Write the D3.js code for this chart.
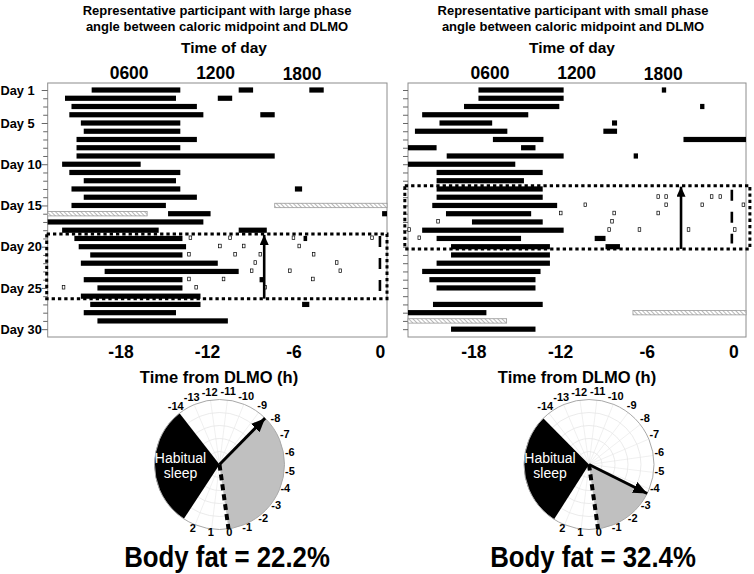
<!DOCTYPE html>
<html><head><meta charset="utf-8">
<script src="https://cdnjs.cloudflare.com/ajax/libs/d3/7.8.5/d3.min.js"></script>
<style>
body{margin:0;background:#fff}
svg{display:block}
text{font-family:"Liberation Sans",Arial,Helvetica,sans-serif}
</style>
</head><body>
<svg id="c" width="754" height="574"></svg>
<script>
// ---------------- data ----------------
const dayTicks = d3.range(1, 31);
const dayLabels = [1, 5, 10, 15, 20, 25, 30];
const bottomTicks = [-18, -12, -6, 0];
const clockTicks = [6, 12, 18];
const clockLabels = ["0600", "1200", "1800"];
const polarHours = d3.range(-14, 3);

const titlesLeft = ["Representative participant with large phase", "angle between caloric midpoint and DLMO"];
const titlesRight = ["Representative participant with small phase", "angle between caloric midpoint and DLMO"];
const bodyFat = ["Body fat = 22.2%", "Body fat = 32.4%"];

// DLMO in clock hours
const dlmoClock = [23.4, 22.85];

// [day, start h, end h] relative to DLMO — black bars
const leftEpisodes = [
  [1,-20.0,-13.85],[1,-9.8,-8.8],[1,-4.9,-3.9],
  [2,-21.85,-14.15],[2,-11.25,-10.25],
  [3,-21.4,-12.7],
  [4,-21.55,-12.25],[4,-8.3,-7.3],
  [5,-20.75,-13.85],
  [6,-20.55,-13.85],
  [7,-21.05,-12.7],
  [8,-21.05,-13.85],
  [9,-21.05,-7.3],
  [10,-22.05,-16.6],
  [11,-21.55,-13.85],
  [12,-20.55,-14.15],
  [13,-21.4,-13.85],[13,-5.9,-5.4],
  [14,-20.55,-12.7],
  [15,-21.4,-14.85],
  [16,-14.7,-11.75],[16,0.15,0.49],
  [17,-23.05,-12.25],
  [18,-22.05,-15.35],[18,-9.8,-7.85],
  [19,-21.2,-13.7],[19,-5.3,-5.05],
  [20,-20.9,-13.45],
  [21,-20.1,-13.7],
  [22,-20.75,-11.25],
  [23,-19.1,-9.8],
  [24,-20.55,-13.7],[24,-8.35,-8.0],
  [25,-19.6,-13.7],
  [26,-20.75,-12.45],
  [27,-20.1,-12.45],[27,-5.4,-4.9],
  [28,-20.55,-14.15],
  [29,-19.6,-10.55]
];
const leftHatched = [[15,-7.3,0.49],[16,-23.05,-16.15]];
// [day, h] — small hollow markers
const leftSnacks = [
  [19,-13.15],[19,-10.4],[19,-6.0],[19,-0.55],
  [20,-11.1],[20,-9.45],[20,-5.6],
  [21,-13.25],[21,-10.05],[21,-8.3],[21,-4.6],
  [22,-8.65],[22,-3.0],
  [23,-8.9],[23,-6.25],[23,-2.75],
  [24,-13.25],[24,-10.85],[24,-4.65],
  [25,-21.95],[25,-12.75],[25,-7.95]
];

const rightEpisodes = [
  [1,-17.65,-11.75],[1,-4.95,-4.65],
  [2,-17.65,-11.75],
  [3,-18.65,-12.05],[3,-2.3,-2.0],
  [4,-21.55,-14.2],
  [5,-20.35,-16.7],[5,-8.4,-8.05],
  [6,-22.05,-15.65],[6,-9.0,-8.05],
  [7,-16.65,-13.15],[7,-3.45,0.88],
  [8,-22.53,-20.55],[8,-14.7,-13.7],
  [9,-19.85,-11.75],[9,-6.9,-6.6],
  [10,-22.53,-15.1],
  [11,-20.55,-13.2],
  [12,-20.55,-14.5],
  [13,-20.55,-13.2],
  [14,-20.55,-13.2],
  [15,-20.85,-12.2],
  [16,-19.9,-14.0],
  [17,-18.1,-13.2],
  [18,-21.55,-11.75],
  [19,-20.55,-14.7],[19,-9.6,-8.85],
  [20,-19.55,-12.7],[20,-8.85,-7.85],
  [21,-19.55,-12.7],
  [22,-20.55,-12.7],
  [23,-21.55,-13.35],
  [24,-21.05,-13.7],
  [25,-20.55,-13.7],
  [27,-20.8,-13.2],
  [28,-22.53,-17.1],
  [30,-19.55,-13.7]
];
const rightHatched = [[28,-6.95,0.88],[29,-22.53,-15.7]];
const rightSnacks = [
  [14,-5.2],[14,-4.65],[14,-1.5],[14,-0.9],
  [15,-10.25],[15,-4.65],[15,-2.15],[15,0.7],
  [16,-11.95],[16,-8.25],[16,-5.2],
  [17,-20.45],[17,-8.4],
  [18,-22.45],[18,-8.6],[18,-6.5],[18,-3.1],[18,0.1],
  [19,-21.75]
];

// analysis window [first day, last day], caloric midpoint (h), DLMO marker (h)
const leftWindow = [18.45, 26.3];
const rightWindow = [12.6, 20.27];
const caloricMidpoint = [-8.03, -3.62];
const dlmoMark = [0, -0.1];
const dlmoMarkDays = [[18.7, 25.6], [13.1, 19.6]];

// polar: habitual sleep [start, end] h, caloric midpoint shown on clock (h)
const polarSleep = [[-21.25, -14.0], [-21.3, -14.45]];
const polarMid = [-8.5, -3.7];

// ---------------- drawing ----------------
const svg = d3.select("#c");
const defs = svg.append("defs");
const hatch = defs.append("pattern").attr("id", "hatch").attr("patternUnits", "userSpaceOnUse")
  .attr("width", 3).attr("height", 3).attr("patternTransform", "rotate(-45)");
hatch.append("rect").attr("width", 3).attr("height", 3).attr("fill", "#fff");
hatch.append("line").attr("x1", 0).attr("y1", 0).attr("x2", 0).attr("y2", 3)
  .attr("stroke", "#8a8a8a").attr("stroke-width", 1.2);

function mkMarker(id, w, h) {
  defs.append("marker").attr("id", id).attr("markerUnits", "userSpaceOnUse")
    .attr("viewBox", `0 0 ${w} ${h}`).attr("markerWidth", w).attr("markerHeight", h)
    .attr("refX", w).attr("refY", h / 2).attr("orient", "auto")
    .append("path").attr("d", `M0,0L${w},${h/2}L0,${h}Z`).attr("fill", "#000");
}
mkMarker("ah", 10, 9);
mkMarker("ahp", 14, 12);

const y = d3.scaleLinear().domain([0.15, 30.95]).range([83, 337]);

const panels = [
  {x0: 47.7, x1: 387, dom: [-23.05, 0.49], titles: titlesLeft, titleX: 217, todX: 224, axX: 219,
   ep: leftEpisodes, hat: leftHatched, sn: leftSnacks, win: leftWindow, winX: [-23.12, 0.49],
   mid: caloricMidpoint[0], dl: dlmoMark[0], dlDays: dlmoMarkDays[0], clock: dlmoClock[0], dayLab: true,
   pc: [219.5, 464.5], sleep: polarSleep[0], pm: polarMid[0], fat: bodyFat[0], fatX: 227},
  {x0: 408, x1: 746, dom: [-22.53, 0.88], titles: titlesRight, titleX: 573, todX: 572, axX: 577,
   ep: rightEpisodes, hat: rightHatched, sn: rightSnacks, win: rightWindow, winX: [-22.75, 1.15],
   mid: caloricMidpoint[1], dl: dlmoMark[1], dlDays: dlmoMarkDays[1], clock: dlmoClock[1], dayLab: false,
   pc: [589, 464.5], sleep: polarSleep[1], pm: polarMid[1], fat: bodyFat[1], fatX: 593}
];

panels.forEach(p => {
  const g = svg.append("g");
  const x = d3.scaleLinear().domain(p.dom).range([p.x0, p.x1]);

  // titles
  p.titles.forEach((t, i) => g.append("text").attr("x", p.titleX).attr("y", 14.5 + i * 16)
    .attr("text-anchor", "middle").attr("font-size", 13).attr("font-weight", "bold").text(t));
  g.append("text").attr("x", p.todX).attr("y", 53).attr("text-anchor", "middle")
    .attr("font-size", 15.5).attr("font-weight", "bold").text("Time of day");
  clockTicks.forEach((c, i) => g.append("text").attr("x", x(c - p.clock))
    .attr("y", i === 2 ? 80 : 78.5).attr("text-anchor", "middle").attr("font-size", 17.5)
    .attr("font-weight", "bold").text(clockLabels[i]));

  // box
  g.append("rect").attr("x", p.x0).attr("y", y.range()[0]).attr("width", p.x1 - p.x0)
    .attr("height", y.range()[1] - y.range()[0]).attr("fill", "#fff").attr("stroke", "#8c8c8c").attr("stroke-width", 1);

  // y axis
  const ay = g.append("g").attr("transform", `translate(${p.x0},0)`)
    .call(d3.axisLeft(y).tickValues(dayTicks).tickSizeInner(p.dayLab ? 4.5 : 5).tickSizeOuter(0).tickFormat(""));
  ay.select(".domain").remove();
  ay.selectAll(".tick line").attr("stroke", "#666")
    .attr("x2", d => (p.dayLab && dayLabels.includes(d)) ? -6 : (p.dayLab ? -4.5 : -5));
  if (p.dayLab) {
    dayLabels.forEach(d => g.append("text").attr("x", 0.5).attr("y", y(d)).attr("dy", "0.36em")
      .attr("font-size", 12.8).attr("font-weight", "bold").text("Day " + d));
  }

  // bottom axis
  const ax = g.append("g").attr("transform", `translate(0,${y.range()[1]})`)
    .call(d3.axisBottom(x).tickValues(bottomTicks).tickSize(0).tickPadding(9).tickFormat(d => String(d)));
  ax.select(".domain").remove();
  ax.selectAll("text").attr("font-size", 17.5).attr("font-weight", "bold").attr("fill", "#000")
    .attr("font-family", '"Liberation Sans",Arial,sans-serif');
  g.append("text").attr("x", p.axX).attr("y", 383).attr("text-anchor", "middle")
    .attr("font-size", 16.5).attr("font-weight", "bold").text("Time from DLMO (h)");

  // hatched bars
  g.selectAll(".hat").data(p.hat).join("rect").attr("x", d => x(d[1])).attr("width", d => x(d[2]) - x(d[1]))
    .attr("y", d => y(d[0]) - 2.2).attr("height", 4.4).attr("fill", "url(#hatch)").attr("stroke", "#9a9a9a").attr("stroke-width", 0.8);
  // black bars
  g.selectAll(".ep").data(p.ep).join("rect").attr("x", d => x(d[1])).attr("width", d => x(d[2]) - x(d[1]))
    .attr("y", d => y(d[0]) - 2.6).attr("height", 5.2).attr("fill", "#000");
  // snacks
  g.selectAll(".sn").data(p.sn).join("rect").attr("x", d => x(d[1]) - 1.3).attr("y", d => y(d[0]) - 2.5)
    .attr("width", 2.6).attr("height", 3.6).attr("fill", "#fff").attr("stroke", "#000").attr("stroke-width", 0.7);

  // window
  g.append("rect").attr("x", x(p.winX[0])).attr("y", y(p.win[0])).attr("width", x(p.winX[1]) - x(p.winX[0]))
    .attr("height", y(p.win[1]) - y(p.win[0])).attr("fill", "none").attr("stroke", "#000")
    .attr("stroke-width", 3).attr("stroke-dasharray", "3.3,3");
  // DLMO marker
  g.append("line").attr("x1", x(p.dl)).attr("x2", x(p.dl)).attr("y1", y(p.dlDays[0])).attr("y2", y(p.dlDays[1]))
    .attr("stroke", "#000").attr("stroke-width", 2.6).attr("stroke-dasharray", "11,11");
  // caloric midpoint arrow
  g.append("line").attr("x1", x(p.mid)).attr("x2", x(p.mid)).attr("y1", y(p.win[1])).attr("y2", y(p.win[0]) + 1)
    .attr("stroke", "#000").attr("stroke-width", 2.6).attr("marker-end", "url(#ah)");

  // ---------- polar clock ----------
  const r = 65;
  const pg = svg.append("g").attr("transform", `translate(${p.pc[0]},${p.pc[1]})`);
  const ang = d3.scaleLinear().domain([-24, 0]).range([172 - 360, 172]);
  const rad = h => ang(h) * Math.PI / 180;
  const pt = (h, rr) => [rr * Math.sin(rad(h)), -rr * Math.cos(rad(h))];
  pg.append("circle").attr("r", r).attr("fill", "#fff");
  [0.2, 0.4, 0.6, 0.8].forEach(f => pg.append("circle").attr("r", r * f).attr("fill", "none")
    .attr("stroke", "#e2e2e2").attr("stroke-width", 0.7));
  d3.range(-24, 0, 1).forEach(h => {
    const e = pt(h, r);
    pg.append("line").attr("x1", 0).attr("y1", 0).attr("x2", e[0]).attr("y2", e[1])
      .attr("stroke", "#e6e6e6").attr("stroke-width", 0.6);
  });
  const arc = d3.arc().innerRadius(0).outerRadius(r);
  pg.append("path").attr("d", arc({startAngle: rad(p.pm), endAngle: rad(0)})).attr("fill", "#c0c0c0");
  pg.append("path").attr("d", arc({startAngle: rad(p.sleep[0]), endAngle: rad(p.sleep[1])})).attr("fill", "#000");
  pg.append("circle").attr("r", r).attr("fill", "none").attr("stroke", "#a8a8a8").attr("stroke-width", 1);
  const dEnd = pt(0, r);
  pg.append("line").attr("x1", 0).attr("y1", 0).attr("x2", dEnd[0]).attr("y2", dEnd[1])
    .attr("stroke", "#000").attr("stroke-width", 4).attr("stroke-dasharray", "6,4");
  const aEnd = pt(p.pm, r);
  pg.append("line").attr("x1", 0).attr("y1", 0).attr("x2", aEnd[0]).attr("y2", aEnd[1])
    .attr("stroke", "#000").attr("stroke-width", 3).attr("marker-end", "url(#ahp)");
  polarHours.forEach(h => {
    const q = pt(h, r + 6);
    pg.append("text").attr("x", q[0]).attr("y", q[1] - 2.5).attr("dy", "0.35em").attr("text-anchor", "middle")
      .attr("font-size", 11).attr("font-weight", "bold").text(String(h));
  });
  ["Habitual", "sleep"].forEach((t, i) => pg.append("text").attr("x", -39).attr("y", -2 + i * 15.5)
    .attr("text-anchor", "middle").attr("font-size", 14).attr("fill", "#fff").text(t));

  // body fat
  svg.append("text").attr("transform", `translate(${p.fatX},567) scale(0.86,1)`).attr("text-anchor", "middle")
    .attr("font-size", 30).attr("font-weight", "bold").text(p.fat);
});
</script>
</body></html>
